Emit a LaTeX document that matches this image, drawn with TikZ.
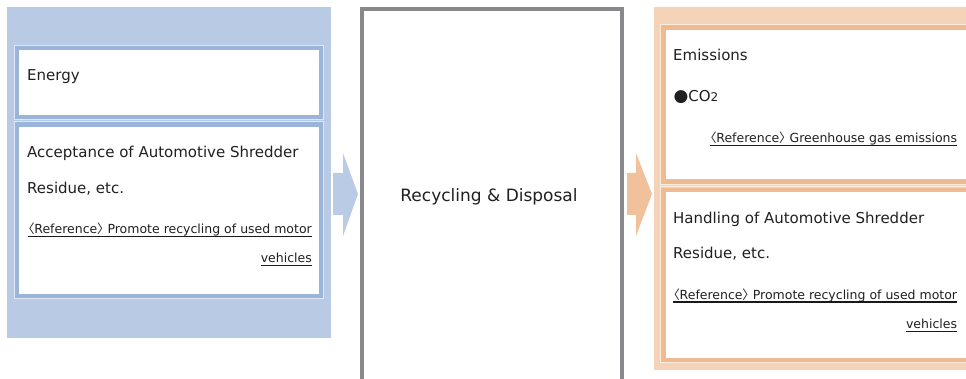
\documentclass[tikz,border=0pt]{standalone}
\usepackage{fontspec}
\setmainfont{DejaVu Sans}
\newfontfamily\cjk[RawFeature={+palt}]{Noto Sans CJK JP}
\definecolor{bluepanel}{HTML}{B8CAE4}
\definecolor{blueborder}{HTML}{9AB4DA}
\definecolor{bluearrow}{HTML}{BACBE6}
\definecolor{orgpanel}{HTML}{F4D3B8}
\definecolor{orgborder}{HTML}{F0BA90}
\definecolor{orgarrow}{HTML}{F0C19B}
\definecolor{grayborder}{HTML}{89898D}
\definecolor{tc}{HTML}{202020}
\newcommand{\lb}{{\cjk 〈}}
\newcommand{\rb}{{\cjk 〉}}
\begin{document}
\begin{tikzpicture}[x=1pt,y=-1pt,
  txt/.style={inner sep=0pt, anchor=base west, font=\fontsize{15}{18}\selectfont, text=tc},
  midtxt/.style={inner sep=0pt, anchor=base, font=\fontsize{17}{20}\selectfont, text=tc},
  reftxt/.style={inner sep=0pt, anchor=base east, font=\fontsize{12.5}{14}\selectfont, text=tc},
  uline/.style={line width=1.2pt, draw=black!90},
  bluebox/.style={draw=blueborder, line width=4.3pt, fill=white},
  orgbox/.style={draw=orgborder, line width=4.4pt, fill=white},
  blueedge/.style={draw=white!55!bluepanel, line width=0.8pt},
  orgedge/.style={draw=white!55!orgpanel, line width=0.8pt}]
\useasboundingbox (0,0) rectangle (966,379);
\begin{scope}
\clip (0,0) rectangle (966,379);
% left panel
\fill[bluepanel] (7,7) rectangle (331,338);
\draw[blueedge] (14.4,45.6) rectangle (323.6,119.8);
\draw[bluebox] (16.9,47.9) rectangle (321.1,117.1);
\draw[blueedge] (14.4,121.6) rectangle (323.6,298.2);
\draw[bluebox] (16.9,124.5) rectangle (321.1,296);
% arrows
\fill[bluearrow] (333,173) -- (343,173) -- (343,153) -- (358,194) -- (343,236) -- (343,215) -- (333,215) -- cycle;
\fill[orgarrow] (627,173) -- (636,173) -- (636,153) -- (652,194) -- (636,236) -- (636,215) -- (627,215) -- cycle;
% middle box
\draw[draw=grayborder, line width=4.3pt, fill=white] (362.1,9.3) rectangle (622,392);
% right panel
\fill[orgpanel] (654,7) rectangle (980,370);
\draw[orgedge] (660.6,24.6) rectangle (985,184);
\draw[orgbox] (663.3,27.5) rectangle (968.5,181.7);
\draw[orgedge] (660.6,186.8) rectangle (985,362.3);
\draw[orgbox] (663.3,189.8) rectangle (968.5,360);
\end{scope}
% left texts
\node[txt] (energy) at (27,81) {Energy};
\node[txt] (acc1) at (27,157.7) {Acceptance of Automotive Shredder};
\node[txt] (acc2) at (27,193.3) {Residue, etc.};
\node[reftxt] (lref1) at (312,233.3) {\lb Reference\rb{} Promote recycling of used motor};
\node[reftxt] (lref2) at (312,262.3) {vehicles};
\draw[uline] ([yshift=-3pt]lref1.base west) -- ([yshift=-3pt]lref1.base east);
\draw[uline] ([yshift=-3pt]lref2.base west) -- ([yshift=-3pt]lref2.base east);
% middle
\node[midtxt] (mid) at (489,202) {Recycling \& Disposal};
% right texts
\node[txt] (emis) at (673,60.7) {Emissions};
\node[txt] (co2) at (673.3,102) {{\fontsize{17}{18}\selectfont ●}CO{\fontsize{12}{14}\selectfont 2}};
\node[reftxt] (rref0) at (957.3,142.3) {\lb Reference\rb{} Greenhouse gas emissions};
\draw[uline] ([yshift=-3pt]rref0.base west) -- ([yshift=-3pt]rref0.base east);
\node[txt] (hand1) at (673,224) {Handling of Automotive Shredder};
\node[txt] (hand2) at (673,259) {Residue, etc.};
\node[reftxt] (rref1) at (957.3,299) {\lb Reference\rb{} Promote recycling of used motor};
\node[reftxt] (rref2) at (957.3,328.3) {vehicles};
\draw[uline] ([yshift=-3pt]rref1.base west) -- ([yshift=-3pt]rref1.base east);
\draw[uline] ([yshift=-3pt]rref2.base west) -- ([yshift=-3pt]rref2.base east);
\end{tikzpicture}
\end{document}
